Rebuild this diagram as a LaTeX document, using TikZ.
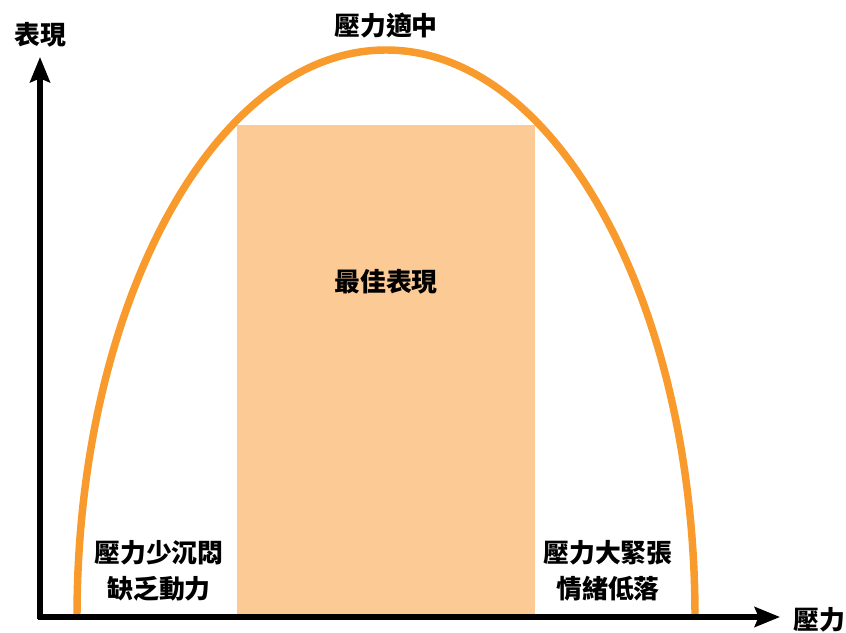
\documentclass[tikz,border=0pt]{standalone}
\usepackage{fontspec}
\newfontfamily\cjk{Noto Sans CJK TC}
\usetikzlibrary{arrows.meta}
\definecolor{curveorange}{HTML}{F89A2C}
\definecolor{zonefill}{HTML}{FCCA94}
\tikzset{
  axisline/.style={line width=3.8pt, -{Stealth[length=19pt,width=15pt,inset=3pt]}},
  curveline/.style={line width=5.6pt, draw=curveorange},
  lbl/.style={font=\cjk\bfseries\fontsize{19.4}{27}\selectfont, align=center, inner sep=0pt, text=black}
}
\begin{document}
\begin{tikzpicture}[x=0.75pt,y=0.75pt]
\useasboundingbox (0,0) rectangle (846,632);
% best zone
\fill[zonefill] (237,15) rectangle (535,507);
% curve
\coordinate (cl) at (77,15);
\draw[curveline] (cl) arc[start angle=180, end angle=0, x radius=309, y radius=567];
% axes
\coordinate (o) at (38,15);
\coordinate (ox) at (40,13);
\coordinate (xtip) at (780,15);
\coordinate (ytip) at (40,575);
\draw[axisline] (ox) -- (ytip);
\draw[axisline] (o) -- (xtip);
% labels
\node[lbl] (ylab) at (40,597) {表現};
\node[lbl] (xlab) at (819,12) {壓力};
\node[lbl] (top) at (386,606) {壓力適中};
\node[lbl] (best) at (386,350) {最佳表現};
\node[lbl] (low) at (159,61) {壓力少沉悶\\缺乏動力};
\node[lbl] (high) at (608,61) {壓力大緊張\\情緒低落};
\end{tikzpicture}
\end{document}
